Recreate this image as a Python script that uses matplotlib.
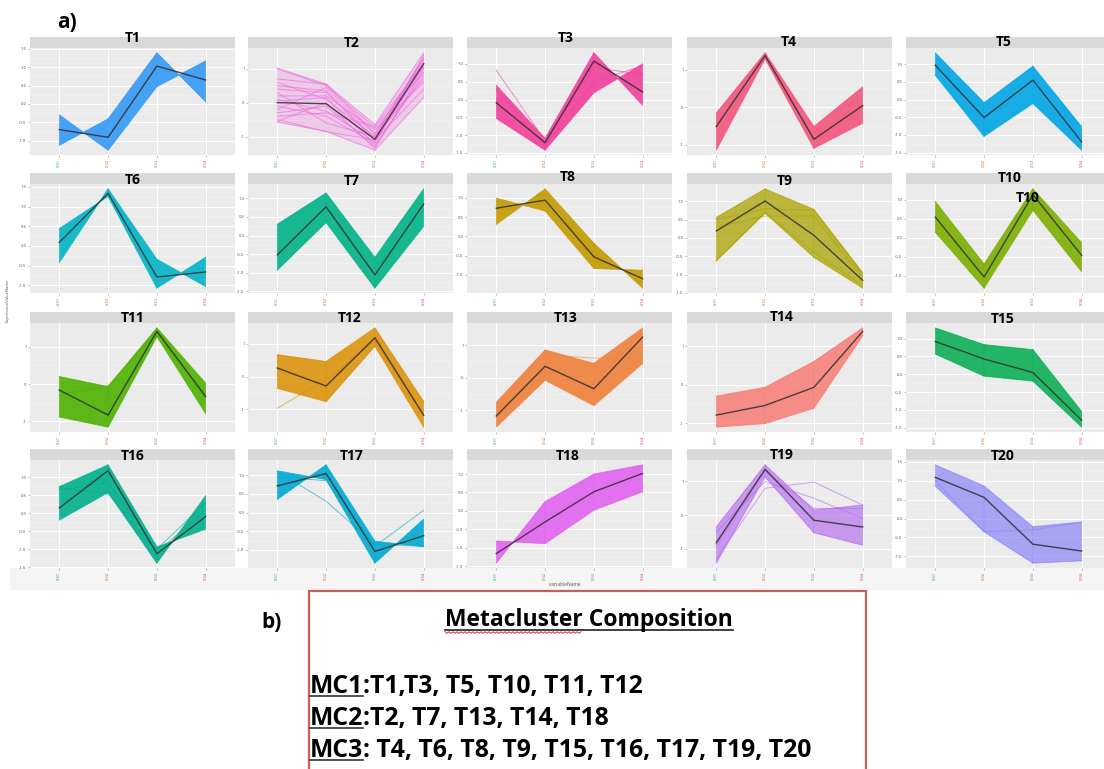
import numpy as np
import matplotlib.pyplot as plt
from matplotlib.patches import Rectangle
from matplotlib.lines import Line2D

W, H = 1104, 769

# ---- profile data: mean, lower / upper edge of each bundle at the 4 stages ----
names = ['T%d' % i for i in range(1, 21)]
stages = ['X.S1', 'X.S2', 'X.S3', 'X.S4']
stage_colours = ['#1B9E77', '#D95F02', '#7570B3', '#E7298A']

colours = ['#3399F5', '#F064DC', '#F2409C', '#F2557C', '#00A6E6',
           '#00B4C6', '#00B386', '#C49A00', '#ABA300', '#7CAE00',
           '#4DB200', '#DB8E00', '#F0803C', '#F8766D', '#00AC4E',
           '#00B08C', '#00AAD2', '#E05CF0', '#B56BF0', '#8C84F5']

mean_vals = [[-0.70, -0.91, 1.03, 0.65], [0.00, -0.03, -1.08, 1.15],
             [-0.09, -1.21, 1.08, 0.21], [-0.52, 1.38, -0.86, 0.04],
             [0.97, -0.51, 0.55, -1.20], [0.09, 1.34, -0.79, -0.66],
             [-0.52, 0.77, -1.06, 0.85], [0.73, 0.94, -0.53, -1.10],
             [0.19, 1.01, 0.07, -1.16], [0.54, -1.04, 1.13, -0.47],
             [-0.16, -0.83, 1.41, -0.34], [0.26, -0.29, 1.19, -1.19],
             [-1.18, 0.35, -0.34, 1.25], [-0.79, -0.54, -0.07, 1.38],
             [0.92, 0.43, 0.05, -1.29], [0.15, 1.19, -1.13, -0.09],
             [0.71, 1.04, -1.04, -0.62], [-1.16, -0.30, 0.52, 1.02],
             [-0.82, 1.36, -0.15, -0.35], [1.09, 0.56, -0.68, -0.86]]

low_vals = [[-1.13, -1.26, 0.47, 0.06], [-0.57, -0.85, -1.40, 0.15],
            [-0.53, -1.42, 0.19, -0.16], [-1.15, 1.29, -1.10, -0.43],
            [0.69, -1.04, -0.11, -1.43], [-0.42, 1.26, -1.07, -1.03],
            [-0.93, 0.35, -1.41, 0.25], [0.31, 0.66, -0.83, -1.34],
            [-0.63, 0.68, -0.53, -1.37], [0.14, -1.33, 0.72, -0.90],
            [-0.88, -1.15, 1.27, -0.79], [-0.36, -0.77, 0.93, -1.55],
            [-1.52, -0.08, -0.86, 0.44], [-1.10, -1.01, -0.61, 1.27],
            [0.57, -0.05, -0.19, -1.48], [-0.19, 0.58, -1.39, -0.44],
            [0.35, 0.88, -1.35, -0.91], [-1.42, -0.89, 0.02, 0.52],
            [-1.42, 1.14, -0.52, -0.89], [0.86, -0.35, -1.18, -1.12]]

high_vals = [[-0.30, -0.41, 1.39, 1.17], [1.02, 0.55, -0.65, 1.47],
             [0.40, -1.09, 1.31, 1.00], [-0.16, 1.45, -0.52, 0.54],
             [1.32, -0.09, 0.94, -0.77], [0.44, 1.45, -0.34, -0.29],
             [0.30, 1.14, -0.59, 1.25], [0.99, 1.23, -0.18, -0.88],
             [0.56, 1.34, 0.78, -0.95], [0.95, -0.70, 1.28, -0.14],
             [0.20, -0.07, 1.50, 0.02], [0.67, 0.46, 1.49, -0.77],
             [-0.76, 0.85, 0.44, 1.53], [-0.30, -0.07, 0.60, 1.47],
             [1.30, 0.83, 0.69, -1.05], [0.74, 1.35, -0.94, 0.49],
             [1.11, 1.27, -0.77, -0.18], [-0.82, 0.25, 1.00, 1.25],
             [-0.35, 1.49, 0.15, 0.30], [1.42, 0.86, -0.22, -0.09]]

# segments where the lines of a bundle swap order (bow-tie shape)
crossed = [[1, 0, 1], [0, 0, 0], [0, 0, 1], [0, 0, 0], [0, 0, 0],
           [1, 0, 1], [0, 0, 0], [1, 0, 1], [0, 0, 0], [0, 0, 0],
           [0, 0, 0], [0, 0, 0], [0, 0, 0], [0, 0, 0], [0, 0, 0],
           [0, 0, 1], [1, 0, 1], [1, 0, 0], [0, 0, 0], [0, 0, 0]]

# individual profiles that fall outside the main bundle
strays = {
    1: [[1.00, 0.50, -0.75, 0.90], [0.70, 0.55, -0.90, 1.30], [0.60, 0.10, -1.00, 1.20],
        [0.40, 0.30, -1.10, 1.10], [0.20, 0.20, -0.80, 0.60], [-0.10, -0.40, -1.20, 1.40],
        [-0.30, -0.10, -1.30, 0.90], [-0.50, -0.85, -1.10, 0.40], [-0.55, 0.00, -1.35, 1.00],
        [0.30, -0.60, -1.00, 0.70], [-0.20, 0.45, -0.95, 1.25], [0.10, -0.25, -1.15, 1.05],
        [0.50, 0.35, -1.05, 1.35], [-0.40, -0.30, -0.70, 1.15], [0.05, 0.15, -1.25, 0.80]],
    2: [[0.82, -1.15, 0.90, 0.70], [0.30, -1.30, 0.50, 0.95]],
    8: [[0.50, 0.80, 0.75, -1.00], [-0.60, 0.70, -0.40, -1.30], [0.30, 0.60, 0.60, -1.10]],
    10: [[-0.30, -0.05, 1.40, -0.30]],
    11: [[-0.97, -0.10, 1.10, -1.20]],
    12: [[-0.90, 0.70, 0.60, 0.60]],
    15: [[0.70, 0.55, -1.10, 0.10], [0.65, 0.85, -1.00, 0.30]],
    16: [[1.10, 0.30, -0.85, -0.90], [0.95, 0.85, -0.90, 0.06]],
    18: [[-1.30, 0.80, 0.98, 0.30], [-0.50, 1.00, 0.50, -0.10], [-0.90, 1.30, 0.20, 0.20]],
    19: [[1.00, -0.35, -0.30, -0.10]],
}

steps = [0.5, 1, 0.5, 1, 0.5, 0.5, 0.5, 0.5, 0.5, 0.5,
         1, 1, 1, 1, 0.5, 0.5, 0.5, 0.5, 1, 0.5]
band_alpha = [0.9, 0.25, 0.9, 0.9, 0.9, 0.9, 0.9, 0.9, 0.75, 0.9,
              0.9, 0.85, 0.9, 0.8, 0.85, 0.9, 0.9, 0.85, 0.65, 0.7]

# ---- layout (pixels) ----
col_left = [30, 248, 467, 687, 906]
panel_w = 205
strip_top = [37, 173, 312, 449]
strip_h = 11
area_bottom = [155, 293, 432, 568]
title_pos = [(133, 38), (352, 43), (566, 38), (789, 42), (1004, 42),
             (133, 180), (352, 181), (568, 177), (785, 181), (1010, 178),
             (133, 318), (350, 318), (566, 318), (782, 317), (1003, 319),
             (133, 456), (352, 456), (568, 456), (782, 455), (1003, 456)]

FONT = 'Open Sans'


def fx(x):
    return x / W


def fy(y):
    return 1 - y / H


plt.rcParams['font.family'] = [FONT, 'DejaVu Sans']
fig = plt.figure(figsize=(W / 100, H / 100), dpi=100)
fig.patch.set_facecolor('white')

# light band behind the bottom axis labels
fig.add_artist(Rectangle((fx(10), fy(590)), fx(1094), 22 / H, transform=fig.transFigure,
                         facecolor='#F5F5F5', edgecolor='none', zorder=0))

x = np.arange(1, 5)
for k in range(20):
    r, c = divmod(k, 5)
    left = col_left[c]
    top = strip_top[r] + strip_h
    h = area_bottom[r] - top
    ax = fig.add_axes([fx(left), fy(area_bottom[r]), panel_w / W, h / H])
    ax.set_facecolor('#EBEBEB')
    col = colours[k]
    lo, hi, mu = low_vals[k], high_vals[k], mean_vals[k]

    # bundle of profiles, one polygon per segment
    for i in range(3):
        xs = [x[i], x[i + 1], x[i + 1], x[i]]
        if crossed[k][i]:
            ys = [lo[i], hi[i + 1], lo[i + 1], hi[i]]
        else:
            ys = [lo[i], lo[i + 1], hi[i + 1], hi[i]]
        ax.fill(xs, ys, color=col, alpha=band_alpha[k], lw=0.3, zorder=2)
        # lighter outer profiles of the bundle
        ax.plot(xs[:2], ys[:2], color=col, lw=0.8, alpha=0.5, zorder=2)
        ax.plot(xs[2:], ys[2:], color=col, lw=0.8, alpha=0.5, zorder=2)
    for s in strays.get(k, []):
        ax.plot(x, s, color=col, lw=0.7, alpha=0.6, zorder=2)
    ax.plot(x, mu, color='#2E2E2E', lw=1.0, alpha=0.85, zorder=3)

    # free y scale, 5% padding
    allv = np.concatenate([lo, hi, mu] + [np.array(s) for s in strays.get(k, [])])
    vmin, vmax = allv.min(), allv.max()
    pad = 0.05 * (vmax - vmin)
    ax.set_ylim(vmin - pad, vmax + pad)
    ax.set_xlim(0.4, 4.6)
    st = steps[k]
    ticks = np.arange(np.ceil((vmin - pad) / st) * st, vmax + pad, st)
    ax.set_yticks(ticks)
    ax.set_yticklabels(['%.1f' % t if st < 1 else '%d' % round(t) for t in ticks],
                       fontsize=3, color='#4D4D4D')
    ax.set_yticks(ticks[:-1] + st / 2, minor=True)
    ax.set_xticks(x)
    ax.set_xticklabels(stages, rotation=90, fontsize=3)
    for lab, sc in zip(ax.get_xticklabels(), stage_colours):
        lab.set_color(sc)
    ax.tick_params(length=1.5, width=0.4, color='#888888', pad=1)
    ax.tick_params(which='minor', length=0)
    ax.grid(True, which='major', color='white', lw=0.7)
    ax.grid(True, which='minor', axis='y', color='#F4F4F4', lw=0.4)
    ax.set_axisbelow(True)
    for sp in ax.spines.values():
        sp.set_visible(False)

    # facet strip
    fig.add_artist(Rectangle((fx(left), fy(strip_top[r] + strip_h)), panel_w / W, strip_h / H,
                             transform=fig.transFigure, facecolor='#D9D9D9',
                             edgecolor='none', zorder=1))
    tx, ty = title_pos[k]
    fig.text(fx(tx), fy(ty), names[k], ha='center', va='center', fontsize=10,
             fontweight='bold', color='black', zorder=5)

# stray facet label left over on T10
fig.text(fx(1028), fy(198), 'T10', ha='center', va='center', fontsize=10,
         fontweight='bold', color='black', zorder=5)

fig.text(fx(8), fy(300), 'ExpressionValueName', rotation=90, fontsize=3,
         color='#555555', ha='center', va='center')
fig.text(fx(565), fy(585), 'variableName', fontsize=3.5, color='#555555',
         ha='center', va='center')

fig.text(fx(57), fy(23), 'a)', fontsize=15, fontweight='bold', va='center', ha='left')
fig.text(fx(261), fy(628), 'b)', fontsize=15, fontweight='bold', va='baseline', ha='left')

# ---- metacluster box ----
fig.add_artist(Rectangle((fx(309), fy(780)), fx(866 - 309), 189 / H, transform=fig.transFigure,
                         facecolor='white', edgecolor='#C0625A', lw=1.6, zorder=1))

fig.canvas.draw()
renderer = fig.canvas.get_renderer()

FS_TITLE = 16.5
FS = 17.8
title = fig.text(fx(589), fy(626), 'Metacluster Composition', ha='center', va='baseline',
                 fontsize=FS_TITLE, fontweight='bold', zorder=3)
word = fig.text(0, 0, 'Metacluster', fontsize=FS_TITLE, fontweight='bold', alpha=0)
tb = title.get_window_extent(renderer)
wb = word.get_window_extent(renderer)
fig.add_artist(Line2D([tb.x0 / W, tb.x1 / W], [fy(629.5)] * 2, transform=fig.transFigure,
                      color='#222222', lw=1.2))
# spell-check squiggle under the first word
zx = np.arange(tb.x0, tb.x0 + wb.width, 2.0)
zy = 632.5 + np.where(np.arange(len(zx)) % 2 == 0, -0.8, 0.8)
fig.add_artist(Line2D(zx / W, fy(zy), transform=fig.transFigure, color='#E03030', lw=0.7))

groups = ['MC1', 'MC2', 'MC3']
members = [':T1,T3, T5, T10, T11, T12',
           ':T2, T7, T13, T14, T18',
           ': T4, T6, T8, T9, T15, T16, T17, T19, T20']
baselines = [693, 725, 757]
for g, m, yb in zip(groups, members, baselines):
    t = fig.text(fx(310), fy(yb), g, fontsize=FS, fontweight='bold', va='baseline', zorder=3)
    b = t.get_window_extent(renderer)
    fig.text(b.x1 / W, fy(yb), m, fontsize=FS, fontweight='bold', va='baseline', zorder=3)
    fig.add_artist(Line2D([b.x0 / W, b.x1 / W], [fy(yb + 3)] * 2, transform=fig.transFigure,
                          color='#333333', lw=1.2))

fig.savefig('out.png', dpi=100)
